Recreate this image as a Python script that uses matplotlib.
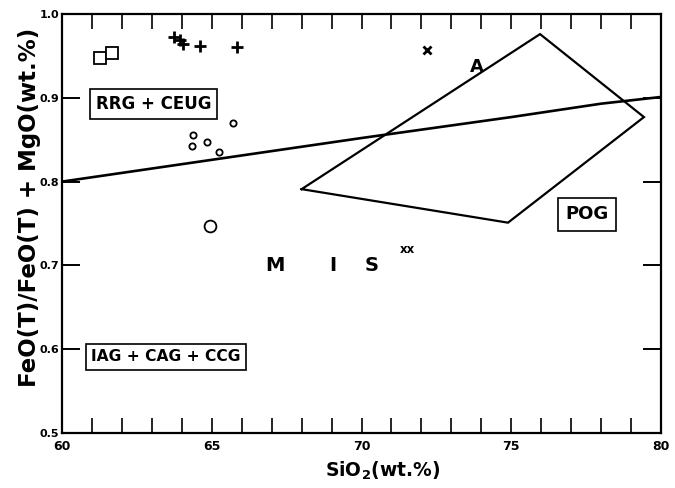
import numpy as np
import matplotlib.pyplot as plt
from matplotlib.ticker import MultipleLocator

# SiO2 vs FeO(T)/(FeO(T)+MgO) discrimination plot
sq_x = [61.27, 61.67]
sq_y = [0.947, 0.953]

plus_x = [63.75, 63.95, 64.05, 64.6, 65.85]
plus_y = [0.973, 0.969, 0.964, 0.962, 0.961]

circ_x = [64.37, 64.34, 64.84, 65.24, 65.70]
circ_y = [0.856, 0.842, 0.847, 0.835, 0.870]

big_circ_x = [64.94]
big_circ_y = [0.747]

cross_x = [72.19]
cross_y = [0.957]

xx_x = [71.55]
xx_y = [0.719]

# POG field outline
pog_x = [68.0, 75.96, 79.43, 74.89, 68.0]
pog_y = [0.791, 0.976, 0.877, 0.751, 0.791]

# boundary line between RRG+CEUG and IAG+CAG+CCG
bound_x = [60, 65, 70, 75, 78, 80]
bound_y = [0.800, 0.826, 0.852, 0.877, 0.893, 0.901]

fig = plt.figure(figsize=(6.75, 4.88), dpi=100)
ax = fig.add_axes([0.0919, 0.1127, 0.8874, 0.8586])

ax.plot(bound_x, bound_y, color='black', lw=1.9, solid_capstyle='butt')
ax.plot(pog_x, pog_y, color='black', lw=1.6, solid_joinstyle='miter')

ax.plot(sq_x, sq_y, 's', ms=8, mfc='white', mec='black', mew=1.3, ls='none')
ax.plot(plus_x, plus_y, '+', ms=8, mec='black', mew=2.0, ls='none')
ax.plot(circ_x, circ_y, 'o', ms=4.5, mfc='white', mec='black', mew=1.3, ls='none')
ax.plot(big_circ_x, big_circ_y, 'o', ms=8.5, mfc='white', mec='black', mew=1.3, ls='none')
ax.plot(cross_x, cross_y, 'x', ms=6, mec='black', mew=2.0, ls='none')
ax.text(xx_x[0], xx_y[0], 'xx', fontsize=8.5, fontweight='bold', ha='center', va='center')
ax.text(73.86, 0.937, 'A', fontsize=13, fontweight='bold', ha='center', va='center')

box = dict(boxstyle='square,pad=0.35', fc='white', ec='black', lw=1.2)
ax.text(63.05, 0.893, 'RRG + CEUG', fontsize=12, fontweight='bold',
        ha='center', va='center', bbox=box)
ax.text(63.47, 0.591, 'IAG + CAG + CCG', fontsize=11.2, fontweight='bold',
        ha='center', va='center', bbox=box)
ax.text(77.52, 0.761, 'POG', fontsize=13, fontweight='bold',
        ha='center', va='center', bbox=dict(boxstyle='square,pad=0.4', fc='white',
                                            ec='black', lw=1.2))

for xm, letter in zip([67.1, 69.05, 70.35], ['M', 'I', 'S']):
    ax.text(xm, 0.700, letter, fontsize=14, fontweight='bold', ha='center', va='center')

ax.set_xlim(60, 80)
ax.set_ylim(0.5, 1.0)
ax.set_xticks([60, 65, 70, 75, 80])
ax.set_xticklabels(['60', '65', '70', '75', '80'])
ax.xaxis.set_minor_locator(MultipleLocator(1))
ax.set_yticks([0.5, 0.6, 0.7, 0.8, 0.9, 1.0])
ax.set_yticklabels(['0.5', '0.6', '0.7', '0.8', '0.9', '1.0'])

ax.tick_params(axis='x', which='both', direction='in', top=True, length=11, width=1.2,
               labelsize=9, pad=5)
ax.tick_params(axis='y', direction='in', right=True, length=13, width=1.4,
               labelsize=8, pad=2)
for lab in ax.get_xticklabels() + ax.get_yticklabels():
    lab.set_fontweight('bold')

for sp in ax.spines.values():
    sp.set_linewidth(1.6)

ax.set_xlabel(r'SiO$_{\mathbf{2}}$(wt.%)', fontsize=13.5, fontweight='bold')
ax.xaxis.set_label_coords(0.536, -0.063)
ax.set_ylabel('FeO(T)/FeO(T) + MgO(wt.%)', fontsize=16.5, fontweight='bold')
ax.yaxis.set_label_coords(-0.035, 0.539)

fig.savefig('out.png', dpi=100)
